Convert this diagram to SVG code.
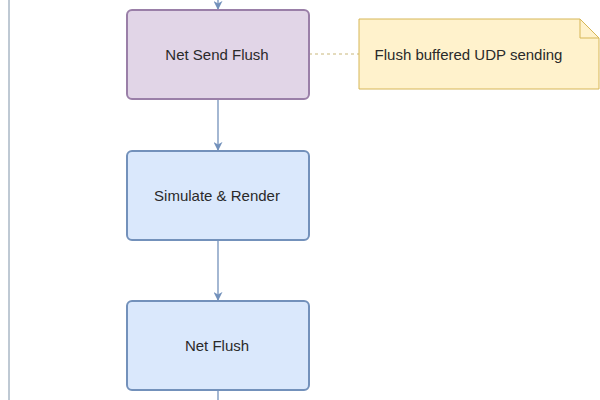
<svg xmlns="http://www.w3.org/2000/svg" width="600" height="400" viewBox="0 0 600 400">
<style>
.box{stroke-width:2}
.blue{fill:#dae8fc;stroke:#7391bb}
.purple{fill:#e1d5e7;stroke:#9a7fa8}
.lbl{font-family:"Liberation Sans",Arial,sans-serif;font-size:15px;fill:#2a2a2a;text-anchor:middle;dominant-baseline:central}
.edge{stroke:#7391bb;stroke-width:1.3;fill:none}
</style>
<defs>
<marker id="arr" viewBox="0 0 10 10" refX="9" refY="5" markerWidth="9" markerHeight="9" orient="auto" markerUnits="userSpaceOnUse">
<path d="M0,0 L10,5 L0,10 L3,5 Z" fill="#7391bb"/>
</marker>
</defs>
<rect width="600" height="400" fill="#fff"/>
<g id="connectors">
<line x1="9" y1="0" x2="9" y2="400" stroke="#7f93a8" stroke-width="1"/>
<line class="edge" x1="218" y1="0" x2="218" y2="9" marker-end="url(#arr)"/>
<line class="edge" x1="218" y1="99" x2="218" y2="150" marker-end="url(#arr)"/>
<line class="edge" x1="218" y1="240" x2="218" y2="300" marker-end="url(#arr)"/>
<line class="edge" x1="218" y1="390" x2="218" y2="400"/>
<line x1="309" y1="54" x2="359" y2="54" stroke="#c9b77a" stroke-width="1" stroke-dasharray="3,3"/>
</g>
<g id="netSendFlush">
<rect class="box purple" x="127" y="10" width="182" height="89" rx="5"/>
<text class="lbl" x="217" y="54.5">Net Send Flush</text>
</g>
<g id="note">
<path d="M359,19 H580 L599,38 V89 H359 Z" fill="#fff2cc" stroke="#d6b656" stroke-width="1"/>
<path d="M580,19 V38 H599" fill="none" stroke="#d6b656" stroke-width="1"/>
<text class="lbl" x="468.5" y="54.5">Flush buffered UDP sending</text>
</g>
<g id="simulateRender">
<rect class="box blue" x="127" y="151" width="182" height="89" rx="5"/>
<text class="lbl" x="217" y="195.5">Simulate &amp; Render</text>
</g>
<g id="netFlush">
<rect class="box blue" x="127" y="301" width="182" height="89" rx="5"/>
<text class="lbl" x="217" y="345.5">Net Flush</text>
</g>
</svg>
